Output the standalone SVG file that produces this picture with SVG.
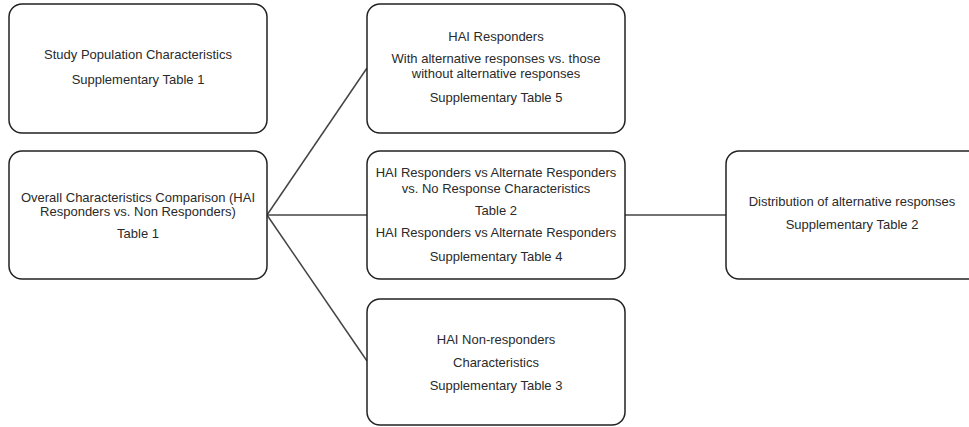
<svg xmlns="http://www.w3.org/2000/svg" width="969" height="427" viewBox="0 0 969 427">
<style>
.box{fill:#fff;stroke:#222;stroke-width:1.5}
.t{font-family:"Liberation Sans",Arial,sans-serif;font-size:13px;fill:#2a2a2a;text-anchor:middle}
.c{stroke:#444;stroke-width:1.5;fill:none}
</style>
<rect width="969" height="427" fill="#fff"/>
<g id="connectors">
<line class="c" x1="267" y1="215" x2="367" y2="68"/>
<line class="c" x1="267" y1="215" x2="367" y2="215"/>
<line class="c" x1="267" y1="215" x2="367" y2="361"/>
<line class="c" x1="625" y1="215" x2="726" y2="215"/>
</g>
<g id="study">
<rect class="box" x="9" y="4" width="258" height="129" rx="13"/>
<text class="t" x="138" y="59">Study Population Characteristics</text>
<text class="t" x="138" y="84">Supplementary Table 1</text>
</g>
<g id="overall">
<rect class="box" x="9" y="151" width="258" height="128" rx="13"/>
<text class="t" x="138" y="202">Overall Characteristics Comparison (HAI</text>
<text class="t" x="138" y="216">Responders vs.  Non Responders)</text>
<text class="t" x="138" y="238">Table 1</text>
</g>
<g id="responders">
<rect class="box" x="367" y="4" width="258" height="129" rx="13"/>
<text class="t" x="496" y="41">HAI Responders</text>
<text class="t" x="496" y="63">With alternative responses vs. those</text>
<text class="t" x="496" y="78">without alternative responses</text>
<text class="t" x="496" y="102">Supplementary Table 5</text>
</g>
<g id="comparison">
<rect class="box" x="367" y="151" width="258" height="128" rx="13"/>
<text class="t" x="496" y="177">HAI Responders vs Alternate Responders</text>
<text class="t" x="496" y="193">vs. No Response Characteristics</text>
<text class="t" x="496" y="215">Table 2</text>
<text class="t" x="496" y="237">HAI Responders vs Alternate Responders</text>
<text class="t" x="496" y="261">Supplementary Table 4</text>
</g>
<g id="nonresponders">
<rect class="box" x="367" y="299" width="258" height="126" rx="13"/>
<text class="t" x="496" y="344">HAI Non-responders</text>
<text class="t" x="496" y="367">Characteristics</text>
<text class="t" x="496" y="390">Supplementary Table 3</text>
</g>
<g id="distribution">
<rect class="box" x="726" y="151" width="258" height="128" rx="13"/>
<text class="t" x="852" y="206">Distribution of alternative responses</text>
<text class="t" x="852" y="229">Supplementary Table 2</text>
</g>
</svg>
